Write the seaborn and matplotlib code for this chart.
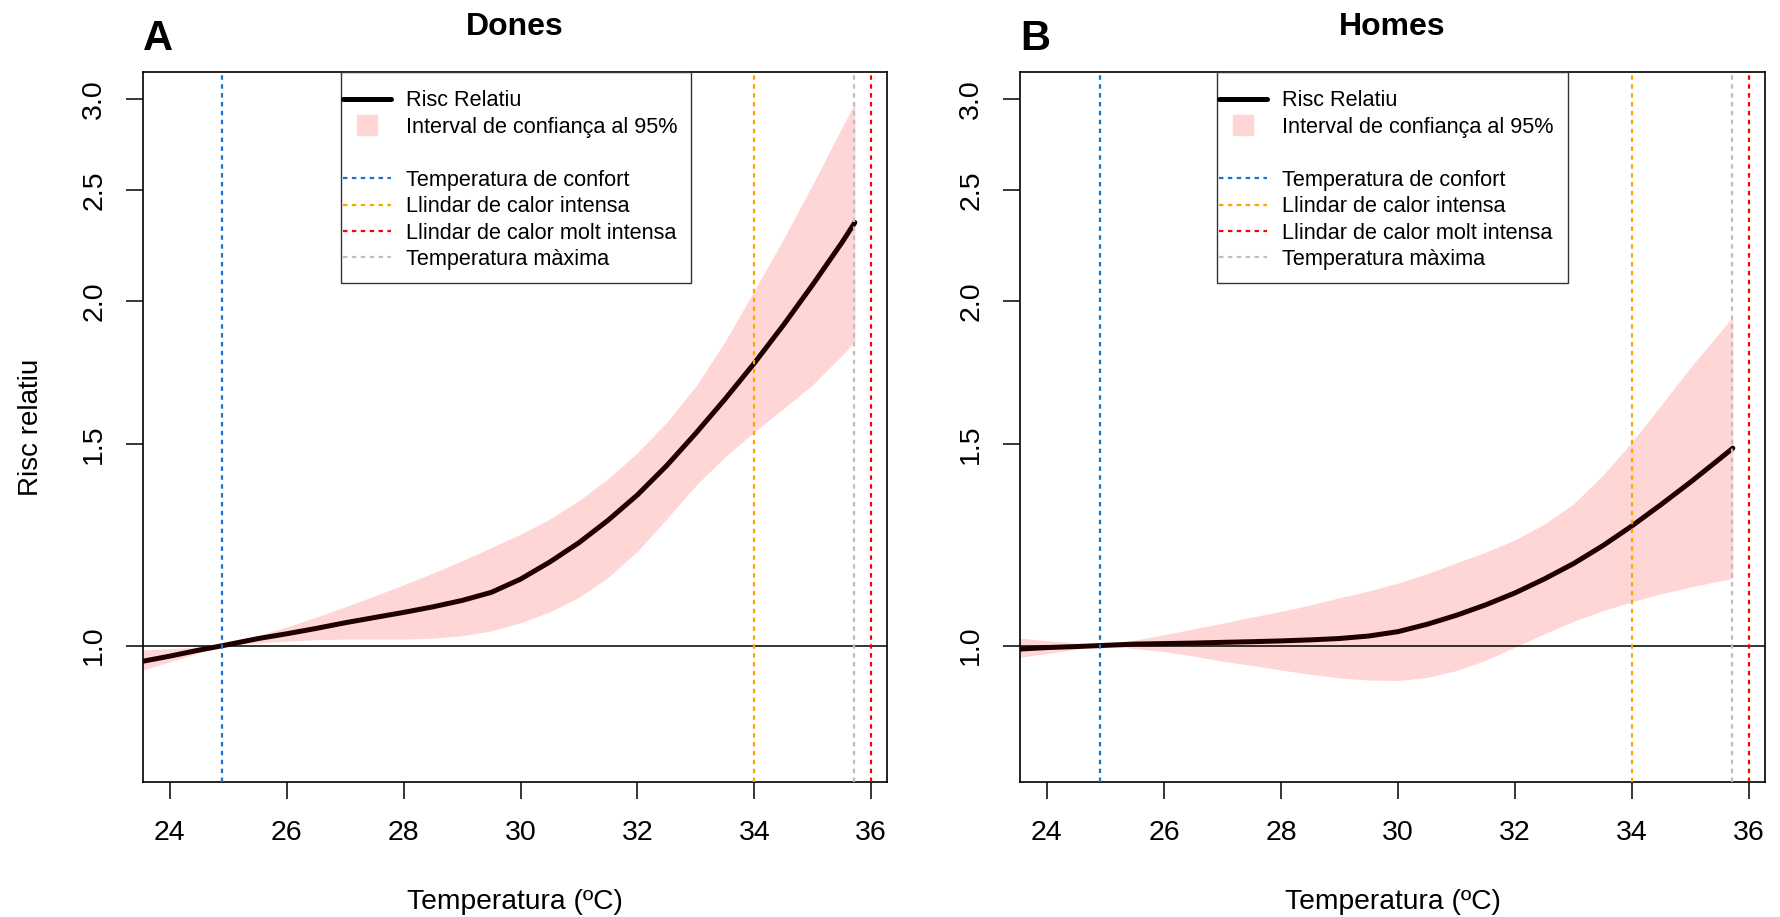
import matplotlib
matplotlib.use("Agg")
import matplotlib.pyplot as plt
import seaborn as sns
import pandas as pd
from matplotlib.lines import Line2D
from matplotlib.patches import Rectangle
from matplotlib.ticker import FixedLocator, FixedFormatter, NullLocator

# ---------------- data ----------------
temperatura = [23.54, 24.0, 24.5, 24.91, 25.5, 26.0, 26.5, 27.0, 27.5, 28.0, 28.5, 29.0, 29.5,
               30.0, 30.5, 31.0, 31.5, 32.0, 32.5, 33.0, 33.5, 34.0, 34.5, 35.0, 35.5, 35.72]

dones_rr = [0.969, 0.979, 0.991, 1.000, 1.014, 1.024, 1.035, 1.047, 1.058, 1.069, 1.081, 1.095, 1.113,
            1.143, 1.183, 1.230, 1.287, 1.354, 1.436, 1.533, 1.642, 1.765, 1.906, 2.067, 2.250, 2.342]
dones_sup = [0.991, 0.994, 0.997, 1.000, 1.020, 1.038, 1.059, 1.081, 1.105, 1.130, 1.157, 1.186, 1.218,
             1.251, 1.290, 1.339, 1.399, 1.474, 1.567, 1.685, 1.844, 2.042, 2.266, 2.529, 2.835, 2.980]
dones_inf = [0.952, 0.968, 0.985, 1.000, 1.005, 1.009, 1.012, 1.013, 1.013, 1.013, 1.015, 1.020, 1.030,
             1.047, 1.070, 1.102, 1.147, 1.209, 1.290, 1.380, 1.462, 1.537, 1.611, 1.690, 1.793, 1.844]

homes_rr = [0.993, 0.996, 0.998, 1.000, 1.003, 1.004, 1.005, 1.0065, 1.0078, 1.0094, 1.0115, 1.0143, 1.0194,
            1.0284, 1.0439, 1.0629, 1.0855, 1.1118, 1.1434, 1.1794, 1.2226, 1.2725, 1.3287, 1.3896, 1.4565, 1.4874]
homes_sup = [1.015, 1.010, 1.005, 1.000, 1.011, 1.022, 1.034, 1.046, 1.059, 1.071, 1.085, 1.101, 1.116,
             1.134, 1.156, 1.181, 1.207, 1.237, 1.277, 1.330, 1.409, 1.507, 1.623, 1.751, 1.878, 1.937]
homes_inf = [0.977, 0.984, 0.993, 1.000, 0.994, 0.988, 0.979, 0.969, 0.961, 0.952, 0.944, 0.937, 0.933,
             0.932, 0.938, 0.951, 0.971, 0.997, 1.024, 1.050, 1.073, 1.092, 1.110, 1.125, 1.139, 1.145]

ref_temps = [24.9, 34.0, 36.0, 35.7]
ref_labels = ["Temperatura de confort", "Llindar de calor intensa",
              "Llindar de calor molt intensa", "Temperatura màxima"]
ref_colors = ["#1874CD", "#FFA500", "#FF0000", "#BEBEBE"]

x_ticks = [24, 26, 28, 30, 32, 34, 36]
y_ticks = [1.0, 1.5, 2.0, 2.5, 3.0]
y_tick_labels = ["1.0", "1.5", "2.0", "2.5", "3.0"]

panels = [("A", "Dones", dones_rr, dones_inf, dones_sup),
          ("B", "Homes", homes_rr, homes_inf, homes_sup)]

# ---------------- style ----------------
sns.set_theme(style="white")
plt.rcParams["font.family"] = ["Liberation Sans", "DejaVu Sans"]

W, H = 1780, 917
fig = plt.figure(figsize=(W / 100, H / 100), dpi=100)

ax_top, ax_bot = 72, 782
AH = ax_bot - ax_top
lefts = [(143, 887), (1020, 1765)]
legend_boxes = [(341, 691), (1217, 1568)]

CI_COLOR = "#FFD6D6"
RR_COLOR = "#1E0000"
DOT = (0, (2, 2))

for (letter, title, rr, lo, hi), (l, r), (lb0, lb1) in zip(panels, lefts, legend_boxes):
    AW = r - l
    ax = fig.add_axes([l / W, (H - ax_bot) / H, AW / W, AH / H])
    df = pd.DataFrame({"Temperatura": temperatura, "RR": rr, "lo": lo, "hi": hi})

    ax.fill_between(df["Temperatura"], df["lo"], df["hi"], color=CI_COLOR, lw=0, zorder=1)
    sns.lineplot(data=df, x="Temperatura", y="RR", ax=ax, color=RR_COLOR, lw=3.6,
                 zorder=3, legend=False)
    ax.axhline(1.0, color="black", lw=1.1, zorder=2)
    for xv, c in zip(ref_temps, ref_colors):
        ax.axvline(xv, color=c, lw=1.6, ls=DOT, zorder=4)

    ax.set_yscale("log")
    ax.set_xlim(23.54, 36.27)
    ax.set_ylim(0.76, 3.17)
    ax.yaxis.set_major_locator(FixedLocator(y_ticks))
    ax.yaxis.set_major_formatter(FixedFormatter(y_tick_labels))
    ax.yaxis.set_minor_locator(NullLocator())
    ax.set_xticks(x_ticks)
    ax.set_xticklabels([str(t) for t in x_ticks])

    for s in ax.spines.values():
        s.set_visible(True)
        s.set_color("black")
        s.set_linewidth(1.2)

    ax.tick_params(axis="x", direction="out", length=12.2, width=1.1, color="black",
                   labelsize=20.5, pad=15.5, bottom=True, labelcolor="black")
    ax.tick_params(axis="y", direction="out", length=12.2, width=1.1, color="black",
                   labelsize=20.5, pad=13.5, left=True, labelrotation=90, labelcolor="black")
    for lab in ax.get_yticklabels():
        lab.set_va("center")

    ax.set_xlabel("Temperatura (ºC)", fontsize=20.3, color="black")
    ax.xaxis.set_label_coords(0.5, (ax_bot - 902) / AH)
    ax.xaxis.label.set_va("center")
    if letter == "A":
        ax.set_ylabel("Risc relatiu", fontsize=20, color="black")
        ax.yaxis.set_label_coords((31 - l) / AW, 0.5)
        ax.yaxis.label.set_va("center")
    else:
        ax.set_ylabel("")

    ax.text(0.5, (ax_bot - 27) / AH, title, transform=ax.transAxes,
            ha="center", va="center", fontsize=23, fontweight="bold", color="black")
    ax.text(0.0, (ax_bot - 39) / AH, letter, transform=ax.transAxes,
            ha="left", va="center", fontsize=30, fontweight="bold", color="black")

    # legend
    handles = [Line2D([], [], color="black", lw=3.6),
               Line2D([], [], marker="s", markersize=14, color=CI_COLOR, ls="none"),
               Line2D([], [], color="none")]
    labels = ["Risc Relatiu", "Interval de confiança al 95%", " "]
    for lab, c in zip(ref_labels, ref_colors):
        handles.append(Line2D([], [], color=c, lw=1.6, ls=DOT))
        labels.append(lab)
    leg = ax.legend(handles, labels, loc="upper left",
                    bbox_to_anchor=((lb0 + 2 - l) / AW, 0.974),
                    frameon=False, fontsize=15.6, borderpad=0, borderaxespad=0,
                    handlelength=2.2, handletextpad=0.7, labelspacing=0.25)
    for t in leg.get_texts():
        t.set_color("black")
    bx0 = (lb0 - l) / AW
    bx1 = (lb1 - l) / AW
    by0 = (ax_bot - 283) / AH
    ax.add_patch(Rectangle((bx0, by0), bx1 - bx0, 1.0 - by0, transform=ax.transAxes,
                           facecolor="white", edgecolor="#333333", lw=1.0, zorder=5,
                           clip_on=False))
    leg.set_zorder(6)

fig.savefig("out.png", dpi=100, facecolor="white")
